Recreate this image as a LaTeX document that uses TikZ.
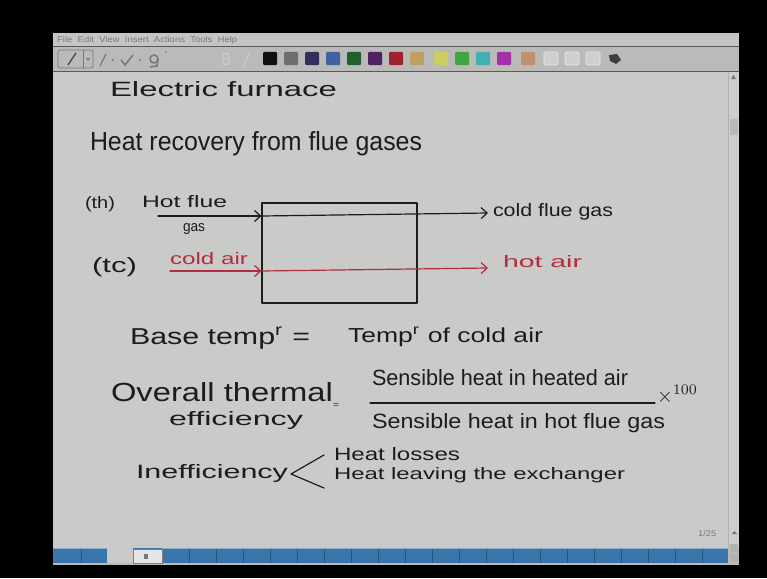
\documentclass[tikz,border=0pt]{standalone}
\usepackage{fontspec}
\setmainfont{Liberation Sans}
\usepackage{graphicx}
\usetikzlibrary{arrows.meta}
\definecolor{ink}{RGB}{28,28,28}
\definecolor{redink}{RGB}{178,45,66}
\definecolor{page}{RGB}{202,202,200}
\definecolor{chrome}{RGB}{186,186,184}
\definecolor{menubg}{RGB}{196,196,194}
\definecolor{scrollbg}{RGB}{206,206,204}
\definecolor{barblue}{RGB}{58,118,172}
\definecolor{iconink}{RGB}{120,120,120}
\tikzset{
  hw/.style={inner sep=0pt, outer sep=0pt, anchor=base west, text=ink},
  hwred/.style={hw, text=redink},
  pen/.style={draw=ink, line width=1.2pt, line cap=round, line join=round},
  redpen/.style={pen, draw=redink},
  tipv/.style={-{Straight Barb[length=6pt,width=11pt]}},
}
\newcommand{\hwt}[3]{\resizebox{#1pt}{#2pt}{#3}}

\begin{document}
\begin{tikzpicture}[x=1pt,y=-1pt]
\useasboundingbox (0,0) rectangle (767,578);
\fill[black] (0,0) rectangle (767,578);
% window
\fill[chrome] (53,33) rectangle (739,565);
\fill[menubg] (53,33) rectangle (739,46);
\draw[gray!70!black, line width=0.5pt] (53,46) -- (739,46);
\draw[gray!70!black, line width=0.8pt] (53,71) -- (739,71);
\node[anchor=base west, inner sep=0, text=iconink] (menu) at (57,43)
  {\hwt{180}{6}{File\ \ Edit\ \ View\ \ Insert\ \ Actions\ \ Tools\ \ Help}};
% toolbar icons
\draw[iconink, rounded corners=2pt, line width=0.7pt] (58,50) rectangle (93,68);
\draw[iconink, line width=0.6pt] (83,50) -- (83,68);
\draw[ink!80, line width=1.3pt] (68,65) -- (76,53);
\fill[iconink] (86,58) -- (90,58) -- (88,61) -- cycle;
\draw[iconink, line width=1.3pt] (100,66) -- (106,54);
\fill[iconink] (113,60) circle (1.2pt);
\draw[iconink, line width=1.5pt] (121,60) -- (125,65) -- (133,55);
\fill[iconink] (140,60) circle (1.2pt);
\draw[iconink, line width=1.5pt] (154,59) circle (4pt);
\draw[iconink, line width=1.5pt] (158,59) -- (157,66) -- (150,67);
\fill[iconink] (166,52) circle (0.8pt);
\node[anchor=center, inner sep=0, text=gray!40] (boldicon) at (226,60) {\hwt{9}{12}{B}};
\draw[gray!40, line width=1.3pt] (243,66) -- (249,54);
% colour swatches
\foreach \xx/\rr/\gg/\bb in {263/16/16/16, 284/110/110/110, 305/48/48/96, 326/64/96/160,
  347/32/96/48, 368/80/32/96, 389/160/32/48, 410/190/160/96,
  434/205/205/100, 455/64/165/64, 476/64/176/176, 497/165/48/165,
  521/192/144/112}{
  \definecolor{swc}{RGB}{\rr,\gg,\bb}
  \fill[swc, rounded corners=1pt] (\xx,52) rectangle ++(14,13);
}
\foreach \xx in {544,565,586}{
  \draw[white!70!chrome, fill=chrome!70!white, line width=0.6pt, rounded corners=1pt] (\xx,52) rectangle ++(14,13);
}
\fill[ink!85] (609,55) -- (617,54) -- (621,60) -- (616,64) -- (610,61) -- cycle;
% page
\fill[page] (53,72) rectangle (728,548);
\fill[scrollbg] (728,72) rectangle (739,548);
\draw[gray!60, line width=0.4pt] (728,72) -- (728,548);
\fill[gray!55] (730,119) rectangle (738,135);
\fill[iconink] (731,79) -- (736,79) -- (733.5,75) -- cycle;
% bottom bar
\fill[barblue] (53,548) rectangle (728,563);
\fill[page] (107,548) rectangle (133,563);
\draw[gray, fill=gray!20] (133,549) rectangle (162,563);
\fill[iconink] (144,554) rectangle (148,559);
\foreach \xx in {81,189,216,...,716}{
  \draw[barblue!70!black, line width=0.5pt] (\xx,548) -- (\xx,563);
}
\draw[barblue!60!white, line width=0.6pt] (53,548) -- (107,548) (162,548) -- (728,548);
\fill[gray!60] (730,544) rectangle (738,552);
\fill[gray!60] (730,554) rectangle (738,562);
\node[anchor=base west, inner sep=0, text=iconink] (pnum) at (698,536) {\hwt{18}{6}{1/25}};
\fill[iconink] (732,534) -- (737,534) -- (734.5,531) -- cycle;

% ---- handwritten content ----
\node[hw] (title) at (110,96) {\hwt{227}{15}{Electric furnace}};
\node[hw] (heading) at (90,150) {\hwt{332}{19}{Heat recovery from flue gases}};

% heat exchanger box
\node[pen, draw, minimum width=155pt, minimum height=100pt, inner sep=0] (hx) at (339.5,253) {};

% hot flue gas stream
\node[hw] (th) at (85,208) {\hwt{30}{12}{(th)}};
\node[hw] (hotflue) at (142,207) {\hwt{85}{12}{Hot flue}};
\node[hw] (gas) at (183,231) {\hwt{22}{8}{gas}};
\coordinate (hin) at (158,216);
\coordinate (hout) at (488,213);
\draw[pen, tipv] (hin) -- (hx.west |- hin);
\draw[pen, tipv] (hx.west |- hin) -- (hout);
\node[hw] (coldflue) at (493,216) {\hwt{120}{13}{cold flue gas}};

% cold air stream
\node[hw] (tc) at (92,272) {\hwt{45}{15}{(tc)}};
\node[hwred] (coldair) at (170,264) {\hwt{78}{12}{cold air}};
\coordinate (cin) at (170,271);
\coordinate (cout) at (488,268);
\draw[redpen, tipv] (cin) -- (hx.west |- cin);
\draw[redpen, tipv] (hx.west |- cin) -- (cout);
\node[hwred] (hotair) at (503,267) {\hwt{79}{12}{hot air}};

% base temperature
\node[hw] (basetemp) at (130,344) {\hwt{180}{17}{Base temp\textsuperscript{r} =}};
\node[hw] (tempcold) at (348,342) {\hwt{195}{15}{Temp\textsuperscript{r} of cold air}};

% overall thermal efficiency
\node[hw] (overall) at (111,401) {\hwt{222}{19}{Overall thermal}};
\node[hw] (effic) at (169,425) {\hwt{134}{14}{efficiency}};
\node[hw] (eqsign) at (333,407) {\hwt{6}{4}{=}};
\node[hw] (num) at (372,385) {\hwt{256}{16}{Sensible heat in heated air}};
\coordinate (fracl) at (370,403);
\coordinate (fracr) at (655,403);
\draw[pen] (fracl) -- (fracr);
\node[hw] (den) at (372,428) {\hwt{293}{15}{Sensible heat in hot flue gas}};
\node[hw] (times) at (657,402) {\hwt{41}{17}{$\times^{100}$}};

% inefficiency
\node[hw] (ineff) at (136,478) {\hwt{152}{14}{Inefficiency}};
\coordinate (brtop) at (324,455);
\coordinate (brtip) at (291,474);
\coordinate (brbot) at (324,488);
\draw[pen] (brtop) -- (brtip) -- (brbot);
\node[hw] (losses) at (334,460) {\hwt{126}{13}{Heat losses}};
\node[hw] (leaving) at (334,479) {\hwt{291}{12}{Heat leaving the exchanger}};
\end{tikzpicture}
\end{document}
